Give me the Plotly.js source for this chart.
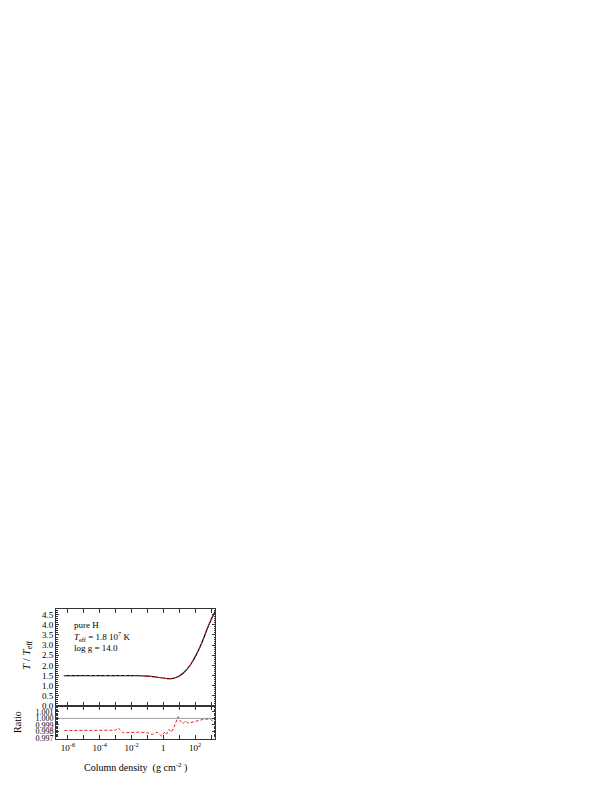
<!DOCTYPE html>
<html><head><meta charset="utf-8">
<script src="https://cdn.plot.ly/plotly-3.0.1.min.js"></script>
<style>html,body{margin:0;padding:0;background:#fff}</style>
</head><body>
<div id="chart" style="width:606px;height:785px"></div>
<script>
// Column density (g cm^-2)
const colDens = [5.6e-7, 1e-5, 1e-4, 1e-3, 1e-2, 3.2e-2, 1e-1, 0.32, 1, 1.8, 3.2, 5.6, 10, 18, 32, 56, 100, 180, 320, 560, 1000, 1780];
// T / Teff (both models, overlaid)
const tRatio = [1.50, 1.50, 1.50, 1.50, 1.50, 1.49, 1.47, 1.43, 1.38, 1.35, 1.35, 1.39, 1.48, 1.63, 1.83, 2.08, 2.42, 2.82, 3.28, 3.78, 4.25, 4.65];
// Ratio panel
const ratioX = [6e-7, 1e-6, 1e-5, 1e-4, 5e-4, 1e-3, 1.4e-3, 3e-3, 1e-2, 3e-2, 0.1, 0.2, 0.4, 0.8, 1.2, 1.6, 2.2, 3.2, 4.5, 6, 8.5, 12, 17, 25, 35, 50, 80, 125, 200, 320, 560, 900, 1250, 1780];
const ratioY = [0.99815, 0.99815, 0.99815, 0.99815, 0.99815, 0.99820, 0.99857, 0.99780, 0.99785, 0.99790, 0.99780, 0.99754, 0.99790, 0.99728, 0.99790, 0.99760, 0.99831, 0.99790, 0.99857, 0.99938, 1.00026, 0.99958, 0.99918, 0.99965, 0.99930, 0.99935, 0.99949, 0.99960, 0.99970, 0.99985, 0.99990, 0.99985, 0.99960, 0.99958];
const xTickVals = [1e-6, 1e-5, 1e-4, 1e-3, 1e-2, 1e-1, 1, 10, 100, 1000];
const xTickText = ['10<sup>-6</sup>', '', '10<sup>-4</sup>', '', '10<sup>-2</sup>', '', '1', '', '10<sup>2</sup>', ''];
const ratioTicks = [0.997, 0.998, 0.999, 1.000, 1.001];
const ratioTickText = ['0.997', '0.998', '0.999', '1.000', '1.001'];

const font = {family: 'Liberation Serif, Times New Roman, serif', size: 9, color: '#000'};
const smallFont = {family: 'Liberation Serif, Times New Roman, serif', size: 8, color: '#000'};
const axCol = '#333';

const traces = [
  {x: colDens, y: tRatio, xaxis: 'x2', yaxis: 'y2', mode: 'lines', line: {color: '#000', width: 1.2, shape: 'spline', smoothing: 0.6}, hoverinfo: 'skip'},
  {x: colDens, y: tRatio, xaxis: 'x2', yaxis: 'y2', mode: 'lines', line: {color: '#e8202a', width: 1, dash: '3px,2px', shape: 'spline', smoothing: 0.6}, hoverinfo: 'skip'},
  {x: [1e-7, 1e4], y: [1, 1], xaxis: 'x', yaxis: 'y', mode: 'lines', line: {color: '#888', width: 0.8}, hoverinfo: 'skip'},
  {x: ratioX, y: ratioY, xaxis: 'x', yaxis: 'y', mode: 'lines', line: {color: '#e8202a', width: 1, dash: '3px,2px'}, hoverinfo: 'skip'}
];

const xCommon = {
  type: 'log', range: [-6.75, 3.25], showgrid: false, zeroline: false,
  showline: true, linecolor: axCol, linewidth: 1, mirror: 'allticks',
  ticks: 'inside', ticklen: 4, tickcolor: axCol,
  tickvals: xTickVals, ticktext: xTickText, tickfont: font
};

const layout = {
  width: 606, height: 785,
  margin: {l: 56, r: 391, t: 609, b: 46},
  paper_bgcolor: '#fff', plot_bgcolor: '#fff',
  showlegend: false, font: font,
  xaxis: Object.assign({}, xCommon, {anchor: 'y', domain: [0, 1]}),
  xaxis2: Object.assign({}, xCommon, {anchor: 'y2', domain: [0, 1], matches: 'x', showticklabels: false}),
  yaxis: {
    domain: [0, 0.2538], anchor: 'x', range: [0.99685, 1.0019],
    showgrid: false, zeroline: false, showline: true, linecolor: axCol, linewidth: 1, mirror: 'allticks',
    ticks: 'inside', ticklen: 3, tickcolor: axCol,
    tickvals: ratioTicks, ticktext: ratioTickText, tickfont: smallFont,
    minor: {dtick: 0.0002, ticklen: 1.5, ticks: 'inside', tickcolor: axCol}
  },
  yaxis2: {
    domain: [0.2538, 1], anchor: 'x2', range: [0, 4.78],
    showgrid: false, zeroline: false, showline: true, linecolor: axCol, linewidth: 1, mirror: 'allticks',
    ticks: 'inside', ticklen: 3, tickcolor: axCol,
    tickmode: 'linear', tick0: 0, dtick: 0.5, tickformat: '.1f', tickfont: font,
    minor: {dtick: 0.1, ticklen: 1.5, ticks: 'inside', tickcolor: axCol}
  },
  annotations: [
    {xref: 'paper', yref: 'paper', x: 0.1006, y: 0.877, xanchor: 'left', yanchor: 'middle', showarrow: false, text: 'pure H', font: font},
    {xref: 'paper', yref: 'paper', x: 0.1006, y: 0.785, xanchor: 'left', yanchor: 'middle', showarrow: false, text: '<i>T</i><sub>eff</sub> = 1.8 10<sup>7</sup> K', font: font},
    {xref: 'paper', yref: 'paper', x: 0.1006, y: 0.70, xanchor: 'left', yanchor: 'middle', showarrow: false, text: 'log g = 14.0', font: font},
    {xref: 'paper', yref: 'paper', x: -0.182, y: 0.646, xanchor: 'center', yanchor: 'middle', showarrow: false, textangle: -90, text: '<i>T</i> / <i>T</i><sub>eff</sub>', font: {family: font.family, size: 11, color: '#000'}},
    {xref: 'paper', yref: 'paper', x: -0.239, y: 0.131, xanchor: 'center', yanchor: 'middle', showarrow: false, textangle: -90, text: 'Ratio', font: {family: font.family, size: 10, color: '#000'}},
    {xref: 'paper', yref: 'paper', x: 0.497, y: -0.223, xanchor: 'center', yanchor: 'middle', showarrow: false, text: 'Column density  (g cm<sup>-2</sup> )', font: {family: font.family, size: 10, color: '#000'}}
  ]
};

Plotly.newPlot('chart', traces, layout, {displayModeBar: false, staticPlot: true});
</script>
</body></html>
